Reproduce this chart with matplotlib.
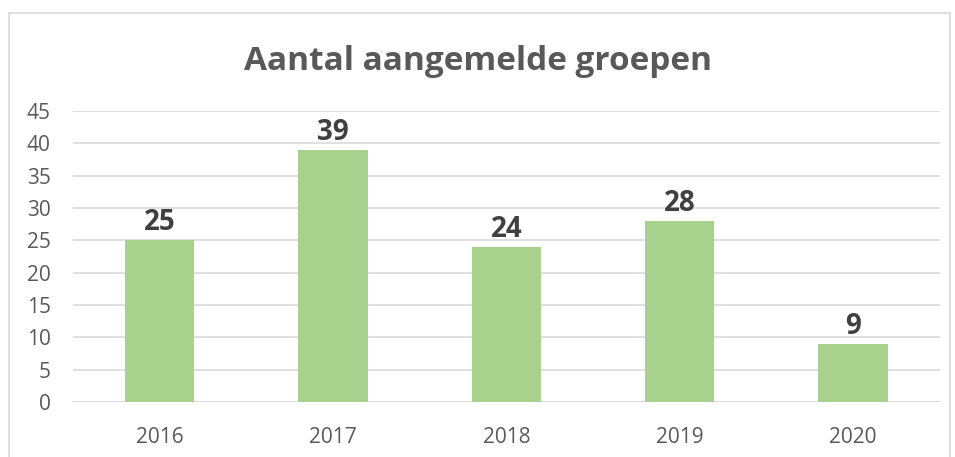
import numpy as np
import matplotlib.pyplot as plt
from matplotlib.patches import Rectangle

years = ["2016", "2017", "2018", "2019", "2020"]
groepen = [25, 39, 24, 28, 9]
yticks = [0, 5, 10, 15, 20, 25, 30, 35, 40, 45]

plt.rcParams['font.family'] = ['Open Sans', 'DejaVu Sans']

fig = plt.figure(figsize=(9.55, 4.57), dpi=100)
ax = fig.add_axes([0.0764, 0.1204, 0.9076, 0.6366])

x = np.arange(len(years))
bars = ax.bar(x, groepen, width=0.4, color="#A9D18E", zorder=2)
for b, v in zip(bars, groepen):
    ax.text(b.get_x() + b.get_width() / 2, v + 0.5, str(v), ha="center", va="bottom",
            fontsize=20, fontweight="bold", color="#404040")

ax.set_xlim(-0.5, len(years) - 0.5)
ax.set_ylim(0, 45)
ax.set_yticks(yticks)
ax.set_xticks(x)
ax.set_xticklabels(years)
ax.yaxis.grid(True, color="#D9D9D9", linewidth=1.2, zorder=0)
ax.tick_params(axis="both", length=0, labelsize=15, labelcolor="#595959")
ax.tick_params(axis="x", pad=18)
ax.tick_params(axis="y", pad=16)
for s in ax.spines.values():
    s.set_visible(False)
ax.axhline(0, color="#D9D9D9", linewidth=1.2, zorder=1)

fig.text(0.5, 0.865, "Aantal aangemelde groepen", ha="center", va="center",
         fontsize=24, fontweight="bold", color="#595959")

fig.patches.append(Rectangle((9 / 955, -0.05), 941 / 955, 1 - 13 / 457 + 0.05,
                             transform=fig.transFigure, fill=False,
                             edgecolor="#D9D9D9", linewidth=1.2))

fig.savefig("out.png", dpi=100)
